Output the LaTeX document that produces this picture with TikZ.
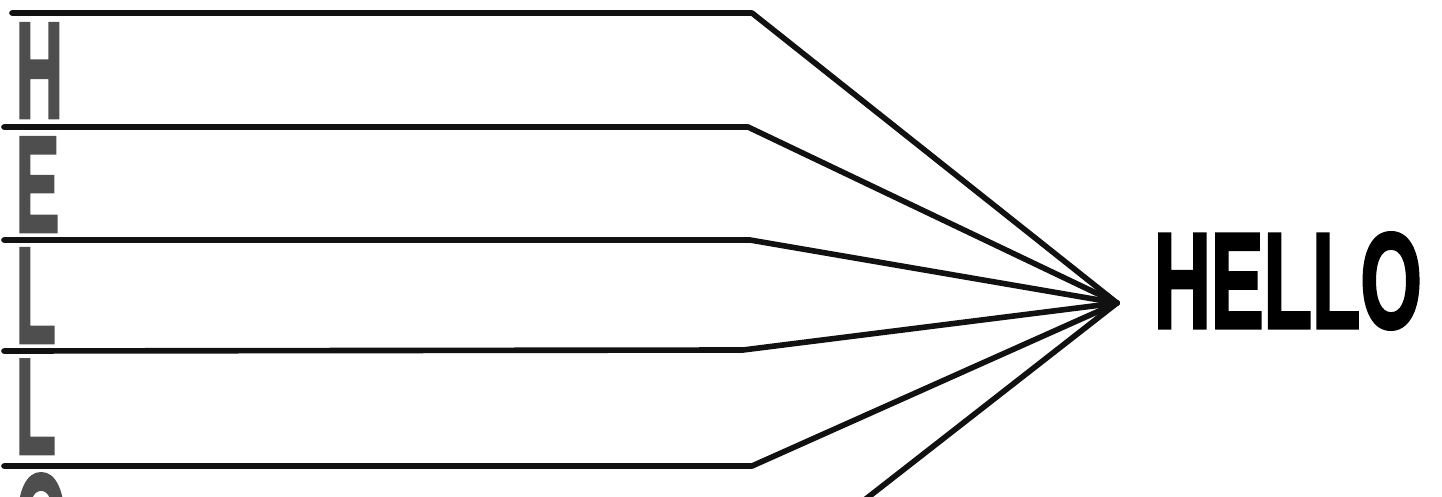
\documentclass[tikz,border=0pt]{standalone}
\usepackage{fontspec}
\usepackage{graphicx}
\setmainfont{Liberation Sans}
\newfontfamily\heavyfont[FakeBold=2.5]{Liberation Sans Bold}
\definecolor{stencilgray}{HTML}{4e4e4e}
\definecolor{wirecolor}{HTML}{111111}

\begin{document}
\begin{tikzpicture}[x=0.01cm, y=-0.01cm,
  wire/.style={draw=wirecolor, line width=1.6pt, line join=round, line cap=round},
  stencil/.style={font=\fontsize{38.8}{40}\heavyfont, text=stencilgray,
                  inner sep=0pt, text depth=0pt, anchor=north west},
  title/.style={font=\fontsize{38.8}{40}\heavyfont, text=black,
                inner sep=0pt, text depth=0pt, anchor=north west}]

%%=== COORDINATE PLAN (px, y down) ==================================
%%  Canvas 1442 x 497
%%  Rails y = 13, 127, 240, 350, 466 ; bends near x = 750
%%  Focus point (1117,303)
%%  Letters x = 15 .. 60, cap height 98
%%====================================================================

\useasboundingbox (0,0) rectangle (1442,497);
\clip (0,0) rectangle (1442,497);

%% --- Stencil letters (left column) ---------------------------------
\node[stencil] (lH)  at (15, 23)  {\scalebox{0.48}[1]{H}};
\node[stencil] (lE)  at (15,137)  {\scalebox{0.48}[1]{E}};
\node[stencil] (lL1) at (15,248)  {\scalebox{0.48}[1]{L}};
\node[stencil] (lL2) at (15,359)  {\scalebox{0.48}[1]{L}};
\node[stencil] (lO)  at (15,473)  {\scalebox{0.48}[1]{O}};

%% --- Merged word (right) -------------------------------------------
\node[title] (hello) at (1153,232) {\scalebox{0.58}[1]{HELLO}};

%% --- Rail coordinates ----------------------------------------------
\coordinate (focus) at (1117,303);
\coordinate (s1) at (12, 13);   \coordinate (b1) at (752, 13);
\coordinate (s2) at ( 4,127);   \coordinate (b2) at (748,127);
\coordinate (s3) at ( 4,240);   \coordinate (b3) at (750,240);
\coordinate (s4) at ( 4,351);   \coordinate (b4) at (743,350);
\coordinate (s5) at ( 4,466);   \coordinate (b5) at (752,466);
\coordinate (s6) at (862,502);

%% --- Rails into the focus ------------------------------------------
\draw[wire] (s1) -- (b1) -- (focus);
\draw[wire] (s2) -- (b2) -- (focus);
\draw[wire] (s3) -- (b3) -- (focus);
\draw[wire] (s4) -- (b4) -- (focus);
\draw[wire] (s5) -- (b5) -- (focus);
\draw[wire] (s6) -- (focus);

\end{tikzpicture}
\end{document}
